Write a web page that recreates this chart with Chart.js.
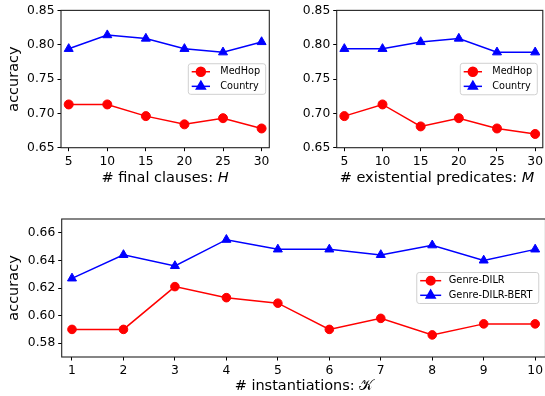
<!DOCTYPE html>
<html>
<head>
<meta charset="utf-8">
<script src="https://cdn.jsdelivr.net/npm/chart.js@4.4.1/dist/chart.umd.min.js"></script>
<style>
  html, body { margin: 0; padding: 0; background: #fff; }
  body { width: 545px; height: 396px; position: relative; overflow: hidden; font-family: 'DejaVu Sans', sans-serif; }
  canvas { position: absolute; }
  .xtitle { position: absolute; text-align: center; font-size: 14.5px; line-height: 17px; white-space: nowrap; color: #000; }
  .xtitle i { font-style: italic; }
</style>
</head>
<body>
<canvas id="chartH" width="280" height="200" style="left:0;top:0"></canvas>
<canvas id="chartM" width="270" height="200" style="left:276px;top:0"></canvas>
<canvas id="chartK" width="546" height="196" style="left:0;top:200px"></canvas>
<div class="xtitle" style="left:61px;width:208px;top:169px"># final clauses: <i>H</i></div>
<div class="xtitle" style="left:337px;width:200px;top:169px"># existential predicates: <i>M</i></div>
<div class="xtitle" style="left:204px;width:200px;top:377px"># instantiations: 𝒦</div>
<script>
// valores
const clausesX = [5, 10, 15, 20, 25, 30];
const medhopByClauses = [0.713, 0.713, 0.696, 0.684, 0.693, 0.678];
const countryByClauses = [0.794, 0.814, 0.809, 0.794, 0.789, 0.804];

const predicatesX = [5, 10, 15, 20, 25, 30];
const medhopByPredicates = [0.696, 0.713, 0.681, 0.693, 0.678, 0.670];
const countryByPredicates = [0.794, 0.794, 0.804, 0.809, 0.789, 0.789];

const instantiationsX = [1, 2, 3, 4, 5, 6, 7, 8, 9, 10];
const genreDilr = [0.590, 0.590, 0.621, 0.613, 0.609, 0.590, 0.598, 0.586, 0.594, 0.594];
const genreDilrBert = [0.627, 0.644, 0.636, 0.655, 0.648, 0.648, 0.644, 0.651, 0.640, 0.648];

const topXTicks = [5, 10, 15, 20, 25, 30];
const topYTicks = [0.65, 0.70, 0.75, 0.80, 0.85];
const bottomXTicks = [1, 2, 3, 4, 5, 6, 7, 8, 9, 10];
const bottomYTicks = [0.58, 0.60, 0.62, 0.64, 0.66];

const FONT = "'DejaVu Sans'";
Chart.defaults.font.family = FONT;
Chart.defaults.color = '#000';

// marco completo alrededor del area (como los ejes de matplotlib)
const frame = {
  id: 'frame',
  afterDraw(chart) {
    const { ctx, chartArea: a } = chart;
    ctx.save();
    ctx.strokeStyle = '#222';
    ctx.lineWidth = 1.1;
    ctx.strokeRect(a.left, a.top, a.right - a.left, a.bottom - a.top);
    ctx.restore();
  }
};

// leyenda dentro del grafico, centrada a la derecha
const insideLegend = {
  id: 'insideLegend',
  afterDraw(chart, args, o) {
    const { ctx, chartArea: a } = chart;
    const x0 = a.right - o.right - o.width;
    const y0 = (a.top + a.bottom) / 2 - o.height / 2;
    ctx.save();
    ctx.beginPath();
    ctx.roundRect(x0, y0, o.width, o.height, 2.5);
    ctx.fillStyle = 'rgba(255,255,255,0.8)';
    ctx.fill();
    ctx.strokeStyle = '#d0d0d0';
    ctx.lineWidth = 1;
    ctx.stroke();
    chart.data.datasets.forEach((ds, i) => {
      const y = y0 + o.height / 2 + (i === 0 ? -7.3 : 7.3);
      ctx.strokeStyle = ds.borderColor;
      ctx.fillStyle = ds.borderColor;
      ctx.lineWidth = ds.borderWidth;
      ctx.beginPath();
      ctx.moveTo(x0 + o.lineStart, y);
      ctx.lineTo(x0 + o.lineEnd, y);
      ctx.stroke();
      Chart.helpers.drawPoint(ctx, { pointStyle: ds.pointStyle, radius: ds.pointRadius, borderWidth: 1 },
        x0 + (o.lineStart + o.lineEnd) / 2, y);
      ctx.fillStyle = '#000';
      ctx.font = o.fontSize + 'px ' + FONT;
      ctx.textBaseline = 'middle';
      ctx.textAlign = 'left';
      ctx.fillText(ds.label, x0 + o.textX, y);
    });
    ctx.restore();
  }
};

function series(label, xs, ys, color, style, radius) {
  return {
    label: label,
    data: xs.map((x, i) => ({ x: x, y: ys[i] })),
    borderColor: color,
    backgroundColor: color,
    pointBackgroundColor: color,
    pointBorderColor: color,
    pointBorderWidth: 1,
    borderWidth: 1.5,
    pointStyle: style,
    pointRadius: radius,
    tension: 0
  };
}

function axis(min, max, ticks, fmt, size) {
  return {
    type: 'linear',
    min: min,
    max: max,
    border: { display: false },
    grid: { drawOnChartArea: false, drawTicks: true, tickLength: 3.5, color: '#000', lineWidth: 1 },
    ticks: { font: { size: 12.3 }, color: '#000', padding: 3, autoSkip: false, maxRotation: 0, callback: fmt },
    afterBuildTicks: (ax) => { ax.ticks = ticks.map(v => ({ value: v })); },
    afterFit: (ax) => {
      if (ax.isHorizontal()) ax.height = size; else ax.width = size;
    }
  };
}

function makeChart(id, datasets, opts) {
  return new Chart(document.getElementById(id), {
    type: 'line',
    data: { datasets: datasets },
    options: {
      responsive: false,
      animation: false,
      layout: { autoPadding: false, padding: opts.padding },
      plugins: { legend: { display: false }, tooltip: { enabled: false }, insideLegend: opts.legend },
      scales: {
        x: axis(opts.xMin, opts.xMax, opts.xTicks, v => String(v), opts.xHeight),
        y: Object.assign(axis(opts.yMin, opts.yMax, opts.yTicks, v => v.toFixed(2), opts.yWidth), {
          title: { display: opts.yTitle, text: 'accuracy', font: { size: 14.5 }, color: '#000', padding: { top: 6, bottom: 0 } }
        })
      }
    },
    plugins: [frame, insideLegend]
  });
}

makeChart('chartH', [
  series('MedHop', clausesX, medhopByClauses, '#ff0000', 'circle', 4.5),
  series('Country', clausesX, countryByClauses, '#0000ff', 'triangle', 5.2)
], {
  padding: { left: 0, top: 9, right: 10.7, bottom: 0 },
  xMin: 4, xMax: 31, xTicks: topXTicks, xHeight: 52.3,
  yMin: 0.65, yMax: 0.85, yTicks: topYTicks, yWidth: 61, yTitle: true,
  legend: { width: 77.4, height: 30.6, right: 3.6, lineStart: 3.4, lineEnd: 21.7, textX: 32, fontSize: 9.7 }
});

makeChart('chartM', [
  series('MedHop', predicatesX, medhopByPredicates, '#ff0000', 'circle', 4.5),
  series('Country', predicatesX, countryByPredicates, '#0000ff', 'triangle', 5.2)
], {
  padding: { left: 0, top: 9, right: 0.5, bottom: 0 },
  xMin: 4, xMax: 31, xTicks: topXTicks, xHeight: 52.3,
  yMin: 0.65, yMax: 0.85, yTicks: topYTicks, yWidth: 60.7, yTitle: false,
  legend: { width: 77, height: 31.5, right: 5.5, lineStart: 3.4, lineEnd: 21.7, textX: 32, fontSize: 9.7 }
});

makeChart('chartK', [
  series('Genre-DILR', instantiationsX, genreDilr, '#ff0000', 'circle', 4.3),
  series('Genre-DILR-BERT', instantiationsX, genreDilrBert, '#0000ff', 'triangle', 5.2)
], {
  padding: { left: 0, top: 19, right: 0, bottom: 0 },
  xMin: 0.8, xMax: 10.2, xTicks: bottomXTicks, xHeight: 39,
  yMin: 0.57, yMax: 0.67, yTicks: bottomYTicks, yWidth: 61.7, yTitle: true,
  legend: { width: 122, height: 31, right: 6.7, lineStart: 3.4, lineEnd: 24.4, textX: 32, fontSize: 9.8 }
});
</script>
</body>
</html>
